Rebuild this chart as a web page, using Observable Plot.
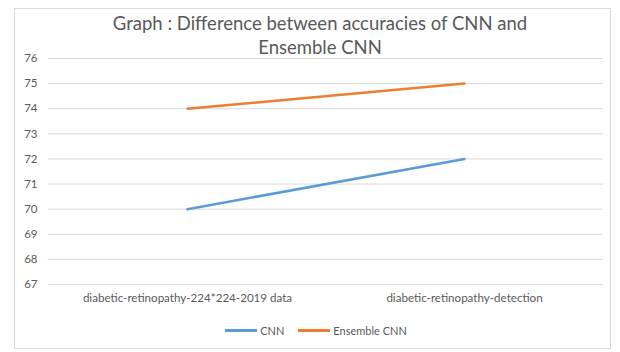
<!DOCTYPE html>
<html>
<head>
<meta charset="utf-8">
<script src="https://cdn.jsdelivr.net/npm/d3@7"></script>
<script src="https://cdn.jsdelivr.net/npm/@observablehq/plot@0.6"></script>
<style>
  html, body { margin: 0; padding: 0; background: #fff; }
  #wrap { position: relative; width: 620px; height: 352px; overflow: hidden; font-family: Lato, "Open Sans", sans-serif; color: #595959; }
  #frame { position: absolute; left: 14px; top: 8px; width: 597px; height: 341px; border: 1px solid #d9d9d9; box-sizing: border-box; }
  #title { position: absolute; left: 0; width: 640px; top: 11px; text-align: center; font-size: 18.5px; line-height: 24px; color: #595959; }
  #chart { position: absolute; left: 0; top: 50px; }
  #legend { position: absolute; left: 0; width: 632px; top: 324px; display: flex; justify-content: center; align-items: center; font-size: 11px; color: #595959; }
  .item { display: flex; align-items: center; margin: 0 7px; }
  .sw { display: inline-block; width: 32px; height: 2.5px; margin-right: 3px; }
</style>
</head>
<body>
<div id="wrap">
  <div id="frame"></div>
  <div id="title"></div>
  <div id="chart"></div>
  <div id="legend"></div>
</div>
<script>
const titleLines = ["Graph : Difference between accuracies of CNN and", "Ensemble CNN"];
const categories = ["diabetic-retinopathy-224*224-2019 data", "diabetic-retinopathy-detection"];
const seriesNames = ["CNN", "Ensemble CNN"];
const cnnValues = [70, 72];
const ensembleValues = [74, 75];
const seriesColors = ["#5b9bd5", "#ed7d31"];
const yTicks = [67, 68, 69, 70, 71, 72, 73, 74, 75, 76];

document.getElementById("title").innerHTML = titleLines.join("<br>");

const data = [];
[cnnValues, ensembleValues].forEach((vals, si) => {
  vals.forEach((v, i) => data.push({series: seriesNames[si], category: categories[i], value: v}));
});

const chart = Plot.plot({
  width: 620,
  height: 260,
  marginTop: 8,
  marginBottom: 26,
  marginLeft: 48,
  marginRight: 17,
  style: {fontFamily: "Lato, 'Open Sans', sans-serif", fontSize: "11px", color: "#595959", background: "transparent"},
  x: {type: "point", domain: categories, padding: 0.5, label: null, tickSize: 0, tickPadding: 9},
  y: {domain: [67, 76], ticks: yTicks, label: null, tickSize: 0, tickPadding: 11, tickFormat: d => String(d)},
  color: {domain: seriesNames, range: seriesColors},
  marks: [
    Plot.gridY(yTicks, {stroke: "#d9d9d9", strokeOpacity: 1, strokeWidth: 1}),
    Plot.axisY({ticks: yTicks, tickSize: 0, tickPadding: 11, label: null, fill: "#595959", fontSize: 11.5}),
    Plot.axisX({tickSize: 0, tickPadding: 9, label: null, fill: "#595959", fontSize: 11.6}),
    Plot.line(data, {x: "category", y: "value", z: "series", stroke: "series", strokeWidth: 2.5, strokeLinecap: "round"})
  ]
});
document.getElementById("chart").appendChild(chart);

const legend = document.getElementById("legend");
seriesNames.forEach((name, i) => {
  const item = document.createElement("div");
  item.className = "item";
  const sw = document.createElement("span");
  sw.className = "sw";
  sw.style.background = seriesColors[i];
  const t = document.createElement("span");
  t.textContent = name;
  item.appendChild(sw);
  item.appendChild(t);
  legend.appendChild(item);
});
</script>
</body>
</html>
